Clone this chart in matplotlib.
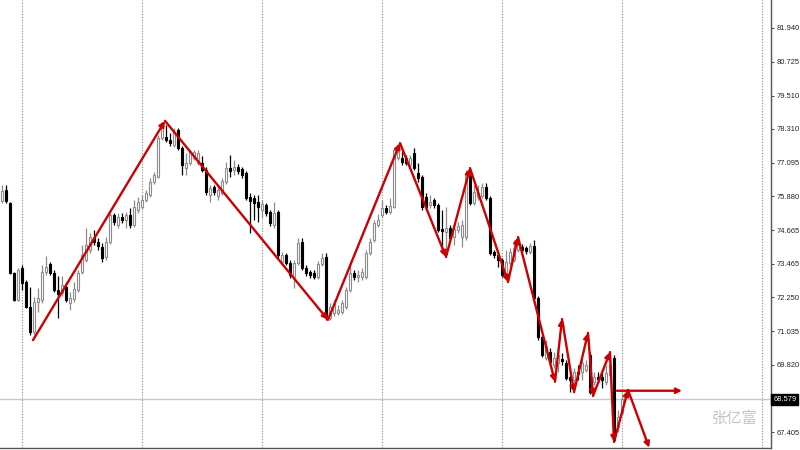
import matplotlib
matplotlib.use("Agg")
import matplotlib.pyplot as plt
from matplotlib.patches import Rectangle

# ---------------- data (prices) ----------------
opens = [75.71, 76.11, 75.64, 73.12, 72.15, 73.30, 72.80, 71.90, 71.00, 72.08,
         72.15, 73.16, 73.45, 73.12, 72.51, 72.41, 72.62, 72.05, 72.19, 72.51,
         73.16, 73.59, 73.95, 74.38, 74.24, 74.06, 73.70, 74.24, 75.21, 74.85,
         75.14, 75.03, 75.21, 74.85, 75.39, 75.50, 75.75, 75.93, 76.40, 76.58,
         77.98, 78.02, 77.91, 77.73, 78.27, 77.62, 76.90, 77.08, 77.26, 77.08,
         77.08, 76.83, 75.93, 76.22, 75.90, 76.00, 76.40, 76.90, 76.83, 76.94,
         76.87, 76.72, 75.86, 75.82, 75.68, 75.39, 75.57, 75.32, 74.85, 75.32,
         73.52, 73.77, 73.48, 72.98, 73.48, 74.24, 73.30, 73.16, 73.12, 72.98,
         73.45, 73.70, 71.51, 71.69, 71.69, 71.72, 71.90, 72.51, 73.12, 72.98,
         72.98, 72.98, 73.84, 74.31, 74.85, 75.21, 75.46, 75.32, 75.50, 77.26,
         77.26, 77.26, 77.01, 77.44, 76.72, 76.58, 75.86, 75.57, 75.75, 75.57,
         74.71, 74.60, 74.74, 74.42, 74.67, 74.42, 74.42, 76.72, 75.64, 75.86,
         75.90, 76.22, 75.82, 73.88, 73.77, 73.59, 73.12, 73.48, 73.59, 73.95,
         74.06, 74.02, 73.88, 74.10, 72.22, 70.82, 70.07, 70.28, 69.81, 69.88,
         70.03, 69.88, 69.38, 69.27, 69.56, 69.56, 69.63, 70.17, 69.20, 69.38,
         69.38, 69.20, 69.45, 70.07, 67.59, 68.09]
highs = [76.29, 76.29, 75.68, 73.16, 73.30, 73.41, 72.87, 72.62, 72.26, 72.58,
         73.41, 73.74, 73.52, 73.23, 73.02, 73.02, 72.80, 72.44, 72.80, 73.23,
         74.13, 74.74, 74.56, 74.67, 74.38, 74.20, 74.42, 75.32, 75.28, 75.28,
         75.28, 75.32, 75.46, 75.75, 75.86, 75.93, 76.11, 76.54, 76.76, 78.09,
         78.56, 78.45, 78.16, 78.34, 78.34, 77.69, 77.44, 77.55, 77.55, 77.55,
         77.33, 76.94, 76.29, 76.29, 76.26, 76.54, 77.12, 77.37, 77.19, 77.04,
         76.94, 76.80, 76.00, 75.93, 75.93, 75.75, 75.64, 75.39, 75.68, 75.39,
         73.88, 73.84, 73.59, 73.59, 74.38, 74.38, 73.41, 73.23, 73.23, 73.56,
         73.84, 73.84, 72.05, 72.15, 71.97, 72.15, 72.62, 73.52, 73.23, 73.23,
         73.30, 73.95, 74.38, 75.03, 75.25, 75.75, 75.57, 75.82, 77.62, 77.73,
         77.55, 77.37, 77.37, 77.62, 77.08, 76.65, 76.00, 75.93, 75.82, 75.64,
         75.39, 75.50, 74.85, 74.82, 74.96, 75.03, 76.83, 76.83, 76.29, 76.29,
         76.36, 76.36, 75.90, 73.95, 73.95, 73.66, 73.95, 74.02, 74.31, 74.46,
         74.17, 74.10, 74.20, 74.31, 72.30, 70.89, 70.71, 70.43, 70.28, 70.46,
         70.25, 69.99, 69.56, 69.70, 69.81, 70.10, 69.99, 70.28, 69.56, 69.56,
         69.56, 69.81, 69.99, 70.17, 68.19, 68.80]
lows = [75.64, 75.64, 73.09, 72.12, 72.12, 72.51, 71.86, 70.89, 70.89, 71.72,
        72.05, 73.05, 73.05, 72.44, 71.51, 72.30, 72.08, 71.79, 72.08, 72.44,
        73.09, 73.52, 73.84, 74.13, 73.95, 73.52, 73.59, 74.17, 74.85, 74.74,
        74.92, 74.74, 74.74, 74.78, 75.28, 75.43, 75.68, 75.86, 76.33, 76.54,
        77.91, 77.84, 77.69, 77.66, 77.55, 76.65, 76.65, 77.01, 77.19, 77.01,
        76.76, 75.93, 75.68, 75.93, 75.75, 75.93, 76.33, 76.58, 76.65, 76.69,
        76.54, 75.75, 74.56, 75.03, 74.96, 75.10, 75.17, 74.82, 74.74, 73.66,
        73.41, 73.41, 72.95, 72.58, 73.41, 73.23, 73.02, 72.95, 72.91, 72.91,
        73.38, 71.43, 71.43, 71.58, 71.61, 71.65, 71.83, 72.44, 72.87, 72.80,
        72.87, 72.91, 73.77, 74.24, 74.78, 75.14, 75.25, 75.25, 75.46, 77.19,
        77.01, 77.01, 76.90, 76.83, 76.40, 75.39, 75.39, 75.46, 75.46, 74.60,
        73.84, 73.95, 74.31, 74.13, 74.56, 74.06, 74.31, 75.57, 75.57, 75.75,
        75.82, 75.75, 73.77, 73.66, 73.34, 72.98, 72.98, 73.38, 73.52, 73.88,
        73.84, 73.81, 73.81, 72.15, 70.71, 70.10, 69.99, 69.81, 69.70, 69.56,
        69.81, 69.27, 68.84, 68.99, 69.27, 69.27, 69.56, 68.77, 69.09, 69.16,
        68.99, 69.09, 69.34, 67.05, 67.41, 68.02]
closes = [76.07, 75.71, 73.12, 72.15, 73.23, 72.76, 71.90, 71.00, 72.08, 72.22,
          73.16, 73.34, 73.12, 72.51, 72.37, 72.69, 72.15, 72.22, 72.55, 73.12,
          73.77, 74.13, 74.42, 74.24, 74.10, 73.66, 74.24, 75.21, 74.96, 75.14,
          75.03, 75.21, 74.85, 75.50, 75.68, 75.75, 76.00, 76.40, 76.65, 77.98,
          78.45, 77.91, 77.80, 78.20, 77.62, 77.01, 77.08, 77.48, 77.48, 77.44,
          76.83, 76.04, 76.18, 76.04, 76.11, 76.43, 76.90, 76.79, 76.94, 76.79,
          76.65, 75.82, 75.71, 75.64, 75.50, 75.61, 75.28, 74.92, 75.28, 73.77,
          73.77, 73.48, 73.05, 73.48, 74.20, 73.30, 73.12, 73.05, 72.98, 73.45,
          73.66, 71.54, 71.90, 72.01, 71.79, 72.05, 72.51, 73.12, 72.98, 73.05,
          73.16, 73.84, 74.24, 74.92, 75.03, 75.46, 75.32, 75.54, 77.55, 77.48,
          77.12, 77.08, 77.26, 76.90, 76.54, 75.50, 75.50, 75.68, 75.57, 74.67,
          74.64, 74.74, 74.38, 74.71, 74.82, 74.85, 76.72, 75.64, 76.04, 76.00,
          76.22, 75.82, 73.84, 73.77, 73.59, 73.05, 73.52, 73.88, 74.02, 74.31,
          73.95, 73.92, 74.10, 72.22, 70.82, 70.17, 70.50, 69.92, 70.07, 70.17,
          69.96, 69.34, 69.27, 69.56, 69.49, 69.88, 69.81, 68.84, 69.38, 69.31,
          69.27, 69.52, 69.81, 67.12, 67.95, 68.579]

# zigzag analysis path (bar position, price)
zz_bar = [7.75, 40.75, 81.5, 99.5, 111.0, 117.0, 126.5, 129.0, 138.25, 140.0,
          143.0, 146.5, 147.75, 152.0, 153.0, 156.5, 161.8]
zz_price = [70.71, 78.60, 71.44, 77.80, 73.70, 76.90, 72.80, 74.42, 69.21, 71.47,
            68.84, 70.97, 68.70, 70.28, 67.05, 68.92, 66.84]
hline_bar = [153.75, 170.0]
hline_price = 68.89

# right-axis price labels
ytick_vals = [81.940, 80.725, 79.510, 78.310, 77.095, 75.880, 74.665, 73.465,
              72.250, 71.035, 69.820, 67.405]
ytick_labels = ["81.940", "80.725", "79.510", "78.310", "77.095", "75.880",
                "74.665", "73.465", "72.250", "71.035", "69.820", "67.405"]
current_price = 68.579
current_label = "68.579"
separator_bars = [5, 35, 65, 95, 125, 155, 190]
watermark = "张亿富"

# ---------------- drawing ----------------
RED = "#cc0000"
LABEL_FONT = ["Liberation Sans", "DejaVu Sans"]
fig = plt.figure(figsize=(8, 4.5), dpi=100)
ax = fig.add_axes([0, 2 / 450, 771 / 800, 448 / 450])
ax.set_xlim(-0.5, 192.25)
ax.set_ylim(66.83, 82.947)

for s in separator_bars:
    ax.axvline(s, color="#8a8a8a", lw=0.8, ls=(0, (1, 1.5)), zorder=1)

ax.axhline(current_price, color="#c8c8c8", lw=1.0, zorder=1)

w = 0.64
for i, (o, h, l, c) in enumerate(zip(opens, highs, lows, closes)):
    if c >= o:
        ax.vlines(i, l, h, color="#8c8c8c", lw=0.9, zorder=2)
        ax.add_patch(Rectangle((i - w / 2, o), w, max(c - o, 0.03),
                               facecolor="white", edgecolor="#8c8c8c",
                               lw=0.8, zorder=3))
    else:
        ax.vlines(i, l, h, color="black", lw=0.9, zorder=2)
        ax.add_patch(Rectangle((i - w / 2, c), w, max(o - c, 0.03),
                               facecolor="black", edgecolor="black",
                               lw=0.8, zorder=3))

# zigzag arrows
for k in range(len(zz_bar) - 1):
    ax.annotate("", xy=(zz_bar[k + 1], zz_price[k + 1]),
                xytext=(zz_bar[k], zz_price[k]),
                arrowprops=dict(arrowstyle="-|>", color=RED, lw=1.7,
                                mutation_scale=8, shrinkA=0, shrinkB=0),
                annotation_clip=False, zorder=5)
ax.annotate("", xy=(hline_bar[1], hline_price), xytext=(hline_bar[0], hline_price),
            arrowprops=dict(arrowstyle="-|>", color=RED, lw=1.7,
                            mutation_scale=8, shrinkA=0, shrinkB=0), zorder=5)

# axes styling
for sp in ["top", "left"]:
    ax.spines[sp].set_visible(False)
ax.spines["right"].set_color("#555555")
ax.spines["bottom"].set_color("#555555")
ax.spines["right"].set_linewidth(1.0)
ax.spines["bottom"].set_linewidth(1.0)
ax.set_xticks([])
ax.yaxis.tick_right()
ax.set_yticks(ytick_vals)
ax.set_yticklabels(ytick_labels, fontsize=5.4, family=LABEL_FONT, color="#222222")
ax.tick_params(axis="y", direction="out", length=2.5, width=0.8, color="#555555", pad=1.2)

ax.text(1.003, current_price, current_label, transform=ax.get_yaxis_transform(),
        ha="left", va="center", fontsize=5.4, color="white", family=LABEL_FONT,
        bbox=dict(boxstyle="square,pad=0.25", facecolor="black", edgecolor="black"),
        clip_on=False, zorder=6)

ax.text(0.953, 0.067, watermark, transform=ax.transAxes,
        ha="center", va="center", fontsize=11, color="#c4c4c4",
        family=["Noto Sans CJK SC", "DejaVu Sans"], zorder=0)

fig.savefig("out.png", dpi=100)
